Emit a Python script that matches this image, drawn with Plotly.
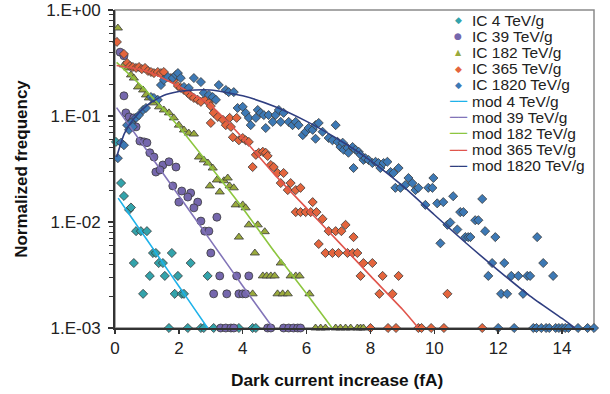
import plotly.graph_objects as go

# ---------------- data ----------------
x_ticks = [0, 2, 4, 6, 8, 10, 12, 14]
x_tick_labels = ["0", "2", "4", "6", "8", "10", "12", "14"]
y_ticks = [0.001, 0.01, 0.1, 1.0]
y_tick_labels = ["1.E-03", "1.E-02", "1.E-01", "1.E+00"]

ic4_x = [0.03, 0.19, 0.28, 0.44, 0.5, 0.66, 0.81, 1.0, 1.19, 1.28, 1.78, 0.59, 1.37, 1.5, 2.37,
         1.09, 1.56, 1.97, 2.9, 0.88, 1.87, 2.09, 2.16,
         1.69, 2.28, 2.69, 2.78, 3.09, 3.88, 4.31, 4.41]
ic4_y = [0.057, 0.0233, 0.0176, 0.013, 0.0137, 0.0082, 0.0082, 0.0082, 0.0051, 0.0051, 0.0051,
         0.0041, 0.0041, 0.0041, 0.0041, 0.0031, 0.0031, 0.0031, 0.0031, 0.0021, 0.0021, 0.0021, 0.0021,
         0.001, 0.001, 0.001, 0.001, 0.001, 0.001, 0.001, 0.001]

ic39_x = [0.16, 0.28, 0.28, 0.34, 0.44, 0.53, 0.59, 0.66, 0.78, 0.91, 1.0, 1.09, 1.22, 1.5, 1.69,
          1.91, 1.28, 1.41, 1.81, 2.09, 2.37, 2.0, 2.28, 2.59, 2.47, 2.69, 3.19, 2.81, 2.94, 3.0,
          3.28, 3.81, 4.19, 3.09, 3.5, 3.88, 4.0, 4.09,
          3.31, 3.47, 3.63, 3.72, 4.78, 4.88, 5.28, 5.44, 5.59, 5.72, 5.81]
ic39_y = [0.40, 0.37, 0.155, 0.107, 0.098, 0.088, 0.096, 0.079, 0.058, 0.057, 0.056, 0.045, 0.041,
          0.0345, 0.037, 0.033, 0.0296, 0.031, 0.0219, 0.0196, 0.0188, 0.0154, 0.0172, 0.0154,
          0.0136, 0.0102, 0.0111, 0.0082, 0.0082, 0.0051, 0.0031, 0.0031, 0.0031,
          0.0021, 0.0021, 0.0021, 0.0021, 0.0021,
          0.001, 0.001, 0.001, 0.001, 0.001, 0.001, 0.001, 0.001, 0.001, 0.001, 0.001]

ic182_x = [0.09, 0.28, 0.41, 0.5, 0.59, 0.72, 0.88, 0.97, 1.06, 1.19,
           1.38, 1.53, 1.69, 1.84, 2.0, 2.16, 2.31, 2.47, 2.63, 2.78,
           2.91, 3.06, 3.19, 3.41, 3.53, 2.97, 3.28, 3.59, 3.72, 3.78,
           4.0, 4.09, 3.88, 4.19, 4.47, 4.69, 4.38, 5.19, 4.63, 4.75,
           4.88, 5.0, 5.5, 5.66, 5.78, 4.31, 5.09, 5.25, 5.41, 6.09,
           6.28, 6.44, 6.59, 6.91, 7.06, 7.22, 7.38, 7.59, 7.69, 7.78]
ic182_y = [0.676, 0.303, 0.284, 0.244, 0.228, 0.188, 0.176, 0.158, 0.148, 0.133,
           0.122, 0.114, 0.107, 0.096, 0.082, 0.0738, 0.069, 0.0676, 0.041, 0.0385,
           0.036, 0.0323, 0.0249, 0.0245, 0.026, 0.0219, 0.0192, 0.0219, 0.021, 0.0145,
           0.0145, 0.0136, 0.0072, 0.0094, 0.0094, 0.0081, 0.0051, 0.0041, 0.0031, 0.0031,
           0.0031, 0.0031, 0.0031, 0.0031, 0.0031, 0.0021, 0.0021, 0.0021, 0.0021, 0.0021,
           0.001, 0.001, 0.001, 0.001, 0.001, 0.001, 0.001, 0.001, 0.001, 0.001]

ic365_x = [0.06, 0.28, 0.38, 0.47, 0.56, 0.66, 0.75, 0.84, 0.94, 1.03,
           1.13, 1.22, 1.34, 1.44, 1.53, 1.75, 1.84, 1.97, 2.06, 2.16,
           2.28, 2.37, 2.47, 2.59, 2.69, 2.84, 2.94, 3.0, 3.09, 3.22,
           3.38, 3.59, 3.81, 3.0, 3.47, 3.63, 3.69, 3.88, 4.0, 4.09,
           4.19, 4.41, 4.5, 4.63, 4.72, 4.78, 4.31, 4.88, 4.97, 5.09,
           5.28, 5.19, 5.5, 5.41, 5.66, 5.81, 6.19, 5.66, 5.81, 5.97,
           6.13, 6.31, 6.5, 6.69, 6.91, 7.09, 7.22, 6.38, 6.59, 6.81,
           7.0, 7.28, 7.44, 7.59, 7.47, 7.78, 8.06, 7.69, 8.38, 8.88,
           8.28, 8.69, 10.41,
           8.0, 8.55, 8.8, 9.5, 9.6, 9.9, 10.3, 11.5]
ic365_y = [0.50, 0.385, 0.316, 0.296, 0.29, 0.284, 0.29, 0.277, 0.284, 0.266,
           0.26, 0.254, 0.26, 0.254, 0.26, 0.228, 0.219, 0.192, 0.184, 0.176,
           0.165, 0.155, 0.148, 0.142, 0.136, 0.145, 0.133, 0.124, 0.107, 0.098,
           0.092, 0.096, 0.096, 0.086, 0.082, 0.079, 0.063, 0.059, 0.062, 0.059,
           0.057, 0.043, 0.045, 0.046, 0.045, 0.042, 0.033, 0.0345, 0.033, 0.029,
           0.029, 0.0233, 0.0233, 0.020, 0.020, 0.021, 0.0154, 0.0124, 0.0124, 0.0124,
           0.0124, 0.0124, 0.0107, 0.0082, 0.0082, 0.0082, 0.0094, 0.0062, 0.0051, 0.0051,
           0.0051, 0.0051, 0.0051, 0.0051, 0.0072, 0.0041, 0.0041, 0.0031, 0.0031, 0.0031,
           0.0021, 0.0021, 0.0021,
           0.001, 0.001, 0.001, 0.001, 0.001, 0.001, 0.001, 0.001]

ic1820_x = [0.09, 0.19, 0.28, 0.38, 0.44, 0.5, 0.56, 0.66, 0.75, 0.88,
            0.97, 1.13, 1.22, 1.34, 1.44, 1.53, 1.66, 1.81, 1.91, 1.97,
            2.06, 2.16, 2.31, 2.47, 2.69, 2.78, 2.94, 3.06, 3.16, 3.25,
            3.47, 3.56, 3.72, 3.84, 4.0, 4.09, 4.19, 4.25, 4.41, 4.47,
            4.56, 4.66, 4.72, 4.81, 4.94, 5.03, 5.13, 5.19, 5.28, 5.44,
            5.56, 5.66, 5.75, 5.88, 5.97, 6.06, 6.19, 6.28, 6.38, 6.28,
            6.5, 6.69, 6.81, 6.91, 6.97, 7.06, 7.13, 7.16, 7.28, 7.31,
            7.44, 7.47, 7.53, 7.63, 7.69, 7.78, 7.84, 7.94, 8.06, 8.16,
            8.25, 8.31, 8.41, 8.53, 8.63, 8.72, 8.88, 8.78, 8.94, 9.09,
            9.19, 9.31, 9.41, 9.5, 9.81, 9.94, 9.97, 9.72, 10.09, 10.28,
            10.59, 10.19, 10.41, 10.5, 10.72, 10.81, 10.91, 10.97, 11.06, 11.13,
            11.28, 11.38, 11.5, 11.59, 11.91, 11.81, 12.19, 11.69, 12.41, 12.63,
            12.91, 13.0, 13.22, 13.41, 13.72, 12.09, 12.28, 12.78,
            12.0, 12.5, 13.1, 13.2, 13.35, 13.5, 13.6, 13.8, 13.9, 14.0, 14.1, 14.2, 14.5, 14.8, 15.0]
ic1820_y = [0.040, 0.056, 0.053, 0.082, 0.074, 0.086, 0.079, 0.096, 0.102, 0.114,
            0.119, 0.151, 0.148, 0.142, 0.196, 0.219, 0.233, 0.228, 0.244, 0.254,
            0.228, 0.188, 0.184, 0.228, 0.209, 0.165, 0.158, 0.151, 0.142, 0.196,
            0.176, 0.168, 0.168, 0.119, 0.122, 0.107, 0.096, 0.082, 0.096, 0.114,
            0.107, 0.102, 0.077, 0.102, 0.088, 0.102, 0.114, 0.088, 0.107, 0.088,
            0.082, 0.088, 0.082, 0.066, 0.071, 0.077, 0.074, 0.082, 0.086, 0.061,
            0.071, 0.062, 0.059, 0.082, 0.057, 0.051, 0.056, 0.048, 0.050, 0.045,
            0.051, 0.0323, 0.048, 0.046, 0.043, 0.0385, 0.040, 0.0385, 0.036, 0.037,
            0.036, 0.0323, 0.036, 0.037, 0.0296, 0.029, 0.0323, 0.021, 0.021, 0.0223,
            0.026, 0.0233, 0.020, 0.021, 0.021, 0.021, 0.026, 0.0145, 0.015, 0.0154,
            0.0175, 0.0063, 0.0094, 0.0099, 0.0085, 0.0124, 0.0124, 0.0072, 0.0072, 0.0072,
            0.0104, 0.0104, 0.0165, 0.0082, 0.0072, 0.0041, 0.0041, 0.0031, 0.0031, 0.0031,
            0.0031, 0.0031, 0.0072, 0.0041, 0.0031, 0.0021, 0.0021, 0.0021,
            0.001, 0.001, 0.001, 0.001, 0.001, 0.001, 0.001, 0.001, 0.001, 0.001, 0.001, 0.001, 0.001, 0.001, 0.001]

mod4_x = [0.1, 0.5, 1.0, 1.5, 2.0, 2.5, 2.9]
mod4_y = [0.0168, 0.0112, 0.0068, 0.0041, 0.00248, 0.0015, 0.001]
mod39_x = [0.05, 1.0, 2.0, 3.0, 4.0, 4.95]
mod39_y = [0.12, 0.0472, 0.0177, 0.00664, 0.00249, 0.001]
mod182_x = [0.05, 1.0, 2.0, 3.0, 4.0, 5.0, 6.0, 6.8]
mod182_y = [0.32, 0.17, 0.079, 0.033, 0.0135, 0.0052, 0.0021, 0.001]
mod365_x = [0.05, 1.0, 2.0, 3.0, 4.0, 5.0, 6.0, 7.0, 8.0, 9.0, 9.5]
mod365_y = [0.30, 0.265, 0.19, 0.125, 0.062, 0.028, 0.0135, 0.0065, 0.0031, 0.0015, 0.001]
mod1820_x = [0.05, 0.3, 0.6, 1.0, 1.5, 2.0, 2.5, 3.0, 4.0, 5.0, 6.0, 7.0, 8.0, 9.0, 10.0,
             11.0, 12.0, 13.0, 14.0, 14.4]
mod1820_y = [0.041, 0.069, 0.095, 0.126, 0.155, 0.17, 0.176, 0.176, 0.155, 0.123, 0.089,
             0.060, 0.038, 0.022, 0.0117, 0.0063, 0.0035, 0.002, 0.00123, 0.001]

ic_names = ["IC 4 TeV/g", "IC 39 TeV/g", "IC 182 TeV/g", "IC 365 TeV/g", "IC 1820 TeV/g"]
mod_names = ["mod 4 TeV/g", "mod 39 TeV/g", "mod 182 TeV/g", "mod 365 TeV/g", "mod 1820 TeV/g"]
x_title = "Dark current increase (fA)"
y_title = "Normalized frequency"

# ---------------- styles ----------------
ic_colors = ["#33a3ab", "#7567ad", "#9aaa3c", "#e4653d", "#3d79b5"]
ic_symbols = ["diamond", "circle", "triangle-up", "diamond", "diamond"]
ic_sizes = [7, 8, 8, 7, 7]
ic_glyphs = ["\u25c6", "\u25cf", "\u25b2", "\u25c6", "\u25c6"]
ic_glyph_sizes = [9, 9, 8, 9, 9]
mod_colors = ["#1eb2ea", "#8274b8", "#8dc63f", "#e0554c", "#2f3e80"]

FONT = "Liberation Sans, Arial, sans-serif"

fig = go.Figure()

ic_data = [(ic4_x, ic4_y), (ic39_x, ic39_y), (ic182_x, ic182_y), (ic365_x, ic365_y), (ic1820_x, ic1820_y)]
for (xs, ys), name, col, sym, sz in zip(ic_data, ic_names, ic_colors, ic_symbols, ic_sizes):
    fig.add_trace(go.Scatter(
        x=xs, y=ys, mode="markers", name=name, cliponaxis=False, showlegend=False,
        marker=dict(symbol=sym, size=sz, color=col, line=dict(color="#3a3a3a", width=0.8))))

mod_data = [(mod4_x, mod4_y), (mod39_x, mod39_y), (mod182_x, mod182_y), (mod365_x, mod365_y),
            (mod1820_x, mod1820_y)]
for (xs, ys), name, col in zip(mod_data, mod_names, mod_colors):
    fig.add_trace(go.Scatter(
        x=xs, y=ys, mode="lines", name=name, showlegend=False,
        line=dict(color=col, width=1.6, shape="spline", smoothing=0.6)))

# ---------------- layout ----------------
L, R, T, B = 115, 16, 10, 66
W, H = 610, 394
pw, ph = W - L - R, H - T - B

fig.update_layout(
    width=W, height=H,
    margin=dict(l=L, r=R, t=T, b=B, autoexpand=False),
    paper_bgcolor="white", plot_bgcolor="white",
    showlegend=False,
    font=dict(family=FONT, color="#222222"),
)

fig.update_xaxes(
    range=[0, 15], tickmode="array", tickvals=x_ticks, ticktext=x_tick_labels,
    ticks="outside", ticklen=4, tickwidth=1.5, tickcolor="#333333",
    showline=True, linecolor="#333333", linewidth=2,
    showgrid=False, zeroline=False, automargin=False,
    tickfont=dict(size=17, color="#222222"),
)
fig.update_yaxes(
    type="log", range=[-3, 0], tickmode="array", tickvals=y_ticks, ticktext=y_tick_labels,
    ticks="outside", ticklen=5, tickwidth=1.5, tickcolor="#333333",
    minor=dict(ticks="outside", ticklen=4, tickwidth=1, tickcolor="#333333", dtick="D1", showgrid=False),
    showline=True, linecolor="#333333", linewidth=2,
    showgrid=False, zeroline=False, automargin=False,
    tickfont=dict(size=17, color="#222222"),
    ticklabelstandoff=4,
    title=dict(text="<b>" + y_title + "</b>", font=dict(size=17, color="#111111"), standoff=14),
)

# x-axis title (sits a little left of the plot centre in the original)
fig.add_annotation(xref="paper", yref="paper", x=(337 - L) / pw, y=(H - B - 380) / ph,
                   text="<b>" + x_title + "</b>", showarrow=False, xanchor="center", yanchor="middle",
                   font=dict(size=17.3, color="#111111", family=FONT))

# plot-area frame (top/right in grey)
fig.add_shape(type="rect", xref="paper", yref="paper", x0=0, x1=1, y0=0, y1=1,
              line=dict(color="#8a8a8a", width=1.5), layer="below")

# ---------------- legend (drawn as text rows) ----------------
sym_px, text_px, row0, row_gap = 458, 471, 20, 16.2
entries = [(g, c, s) for g, c, s in zip(ic_glyphs, ic_colors, ic_glyph_sizes)] + \
          [("\u2500\u2500", c, 14) for c in mod_colors]
labels = ic_names + mod_names
for i, ((glyph, col, gsz), lab) in enumerate(zip(entries, labels)):
    py = row0 + row_gap * i
    yp = (H - B - py) / ph
    fig.add_annotation(xref="paper", yref="paper", x=(sym_px - L) / pw, y=yp,
                       text=glyph, showarrow=False, xanchor="center", yanchor="middle",
                       borderpad=0, font=dict(size=gsz, color=col, family="DejaVu Sans"))
    fig.add_annotation(xref="paper", yref="paper", x=(text_px - L) / pw, y=yp,
                       text=lab, showarrow=False, xanchor="left", yanchor="middle",
                       borderpad=0, font=dict(size=15.5, color="#222222", family=FONT))

fig.write_html("out.html", config={"displayModeBar": False, "staticPlot": True},
               post_script="document.body.style.margin='0';document.body.style.overflow='hidden';")
